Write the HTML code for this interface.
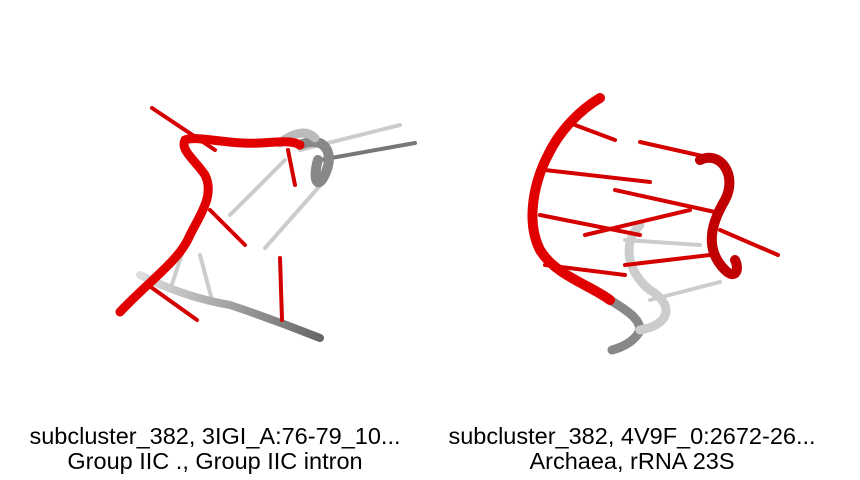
<!DOCTYPE html>
<html><head><meta charset="utf-8"><style>
html,body{margin:0;padding:0;background:#fff;}
svg{display:block;}
text{font-family:"Liberation Sans",Arial,sans-serif;font-size:23.5px;fill:#000;}
</style></head><body>
<svg width="860" height="480" viewBox="0 0 860 480">
<defs>
<linearGradient id="g1" x1="0" y1="0" x2="1" y2="0"><stop offset="0" stop-color="#ddd"/><stop offset="1" stop-color="#666"/></linearGradient>
</defs>
<g stroke-linecap="round" fill="none">
  <g stroke="#ccc" stroke-width="4">
    <line x1="265" y1="248" x2="325" y2="180"/>
    <line x1="230" y1="215" x2="285" y2="160"/>
    <line x1="200" y1="255" x2="212" y2="300"/>
    <line x1="170" y1="290" x2="185" y2="245"/>
    <line x1="300" y1="150" x2="400" y2="125"/>
  </g>
  <line x1="320" y1="160" x2="415" y2="143" stroke="#777" stroke-width="4"/>
  <path d="M140,275 C170,290 200,300 230,305 C260,315 300,330 320,338" stroke="url(#g1)" stroke-width="8"/>
  <path d="M300,145 C322,135 335,150 326,172 C318,192 312,180 318,160" stroke="#888" stroke-width="10"/>
  <path d="M280,143 C290,135 305,128 315,138" stroke="#bbb" stroke-width="9"/>
  <g stroke="#d40000" stroke-width="4">
    <line x1="152" y1="108" x2="215" y2="150"/>
    <line x1="210" y1="210" x2="245" y2="245"/>
    <line x1="280" y1="258" x2="282" y2="320"/>
    <line x1="148" y1="285" x2="197" y2="320"/>
    <line x1="288" y1="150" x2="295" y2="185"/>
  </g>
  <path d="M120,312 C150,280 180,260 190,235 C200,215 215,195 205,175 C195,160 180,150 185,140 C195,135 230,145 260,143 C280,142 292,140 300,145" stroke="#e00000" stroke-width="9"/>
</g>
<g stroke-linecap="round" fill="none">
  <g stroke="#ccc" stroke-width="4">
    <line x1="650" y1="300" x2="720" y2="282"/>
    <line x1="625" y1="240" x2="700" y2="245"/>
  </g>
  <path d="M610,300 C630,312 640,320 640,330 C635,342 620,348 612,350" stroke="#888" stroke-width="9"/>
  <path d="M640,330 C670,325 675,305 650,290 C630,275 620,245 640,225" stroke="#ccc" stroke-width="9"/>
  <g stroke="#d40000" stroke-width="4">
    <line x1="575" y1="125" x2="615" y2="140"/>
    <line x1="545" y1="170" x2="650" y2="182"/>
    <line x1="540" y1="215" x2="640" y2="235"/>
    <line x1="545" y1="265" x2="625" y2="275"/>
    <line x1="640" y1="142" x2="720" y2="160"/>
    <line x1="615" y1="190" x2="715" y2="212"/>
    <line x1="585" y1="235" x2="690" y2="210"/>
    <line x1="625" y1="265" x2="710" y2="255"/>
    <line x1="720" y1="230" x2="778" y2="255"/>
  </g>
  <path d="M600,98 C580,110 560,130 548,155 C535,180 525,220 540,250 C555,275 590,285 610,300" stroke="#e00000" stroke-width="10"/>
  <path d="M700,160 C720,150 738,175 725,200 C710,225 705,250 725,270 C735,280 740,270 735,260" stroke="#c00000" stroke-width="10"/>
</g>
<text x="215" y="444" text-anchor="middle">subcluster_382, 3IGI_A:76-79_10...</text>
<text x="215" y="469" text-anchor="middle">Group IIC ., Group IIC intron</text>
<text x="632" y="444" text-anchor="middle">subcluster_382, 4V9F_0:2672-26...</text>
<text x="632" y="469" text-anchor="middle">Archaea, rRNA 23S</text>
</svg>
</body></html>
